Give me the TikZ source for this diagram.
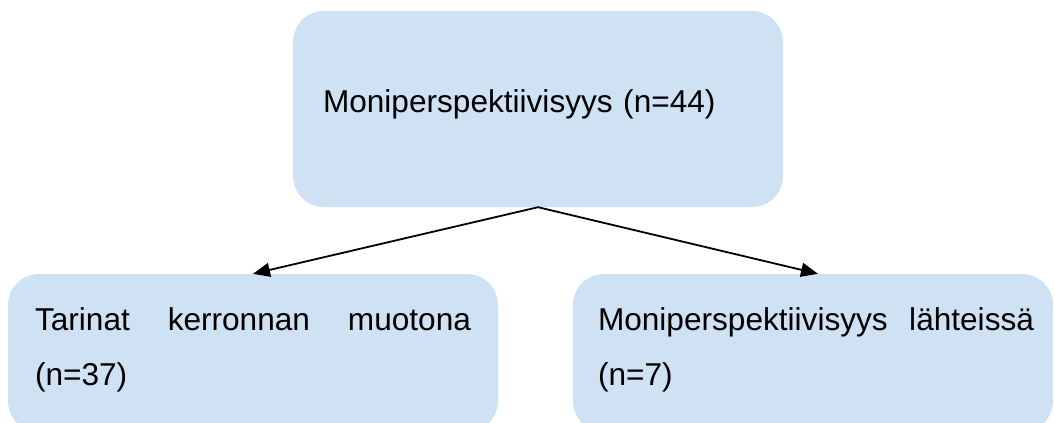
\documentclass[tikz,border=0pt]{standalone}
\usepackage{fontspec}
\setmainfont{Liberation Sans}
\usetikzlibrary{arrows.meta}
\definecolor{boxblue}{RGB}{207,226,243}
\tikzset{
  catbox/.style={rectangle, fill=boxblue, draw=none, rounded corners=31pt,
    font=\fontsize{31.6}{55}\selectfont, align=left, inner ysep=0pt},
  link/.style={line width=1.8pt, -{Triangle[length=17pt,width=14pt]}}
}
% a justified first line of fixed width
\newcommand{\spreadline}[2]{\hbox to #1{#2}}
\begin{document}
\begin{tikzpicture}[x=1pt,y=-1pt]
\useasboundingbox (0,0) rectangle (1055,423);
% main category
\node[catbox, minimum width=490pt, minimum height=196pt, inner xsep=30pt,
      text width=430pt, text height=22pt, text depth=16pt]
  (main) at (538,109) {Moniperspektiivisyys (n=44)};
% subcategories
\node[catbox, minimum width=490pt, minimum height=158pt, inner xsep=27pt,
      text width=436pt, text height=22pt, text depth=68pt]
  (story) at (253,353)
  {\spreadline{436pt}{Tarinat\hfill kerronnan\hfill muotona}\\(n=37)};
\node[catbox, minimum width=480pt, minimum height=158pt, inner xsep=19pt,
      text width=442pt, text height=22pt, text depth=68pt]
  (sources) at (813,353)
  {\hspace*{6pt}\spreadline{436pt}{Moniperspektiivisyys\hfill lähteissä}\\\hspace*{6pt}(n=7)};
% connectors
\draw[link] (main.south) -- (story.north);
\draw[link] (main.south) -- ([xshift=5pt]sources.north);
\end{tikzpicture}
\end{document}
